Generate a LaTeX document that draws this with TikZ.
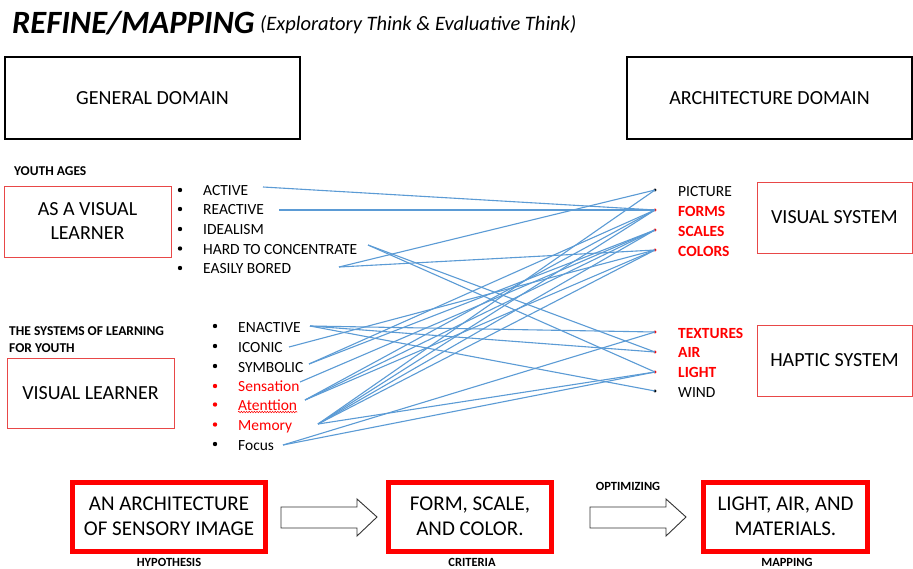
\documentclass[tikz,border=0pt]{standalone}
\usepackage{fontspec}
\setmainfont{Carlito}
\usetikzlibrary{decorations.pathmorphing}
\definecolor{boxred}{RGB}{232,72,72}
\definecolor{lnkblue}{RGB}{91,155,213}
\definecolor{txtred}{RGB}{255,0,0}
\begin{document}
\begin{tikzpicture}[x=1pt,y=-1pt,
  blackbox/.style={draw=black,line width=1.1pt,inner sep=0,font=\fontsize{20}{24}\selectfont,align=center},
  redbox/.style={draw=boxred,line width=1pt,inner sep=0,font=\fontsize{20}{24}\selectfont,align=center},
  thickbox/.style={draw=red,line width=5pt,inner sep=0,font=\fontsize{21}{25}\selectfont,align=center},
  lst/.style={anchor=base west,inner sep=0,font=\fontsize{15.5}{18}\selectfont},
  rlst/.style={anchor=base west,inner sep=0,font=\fontsize{15.5}{18}\selectfont},
  rbold/.style={rlst,text=txtred,font=\fontsize{15.5}{18}\selectfont\bfseries},
  hdr/.style={anchor=base west,inner sep=0,font=\fontsize{13.5}{17}\selectfont\bfseries,align=left},
  lbl/.style={anchor=base,inner sep=0,font=\fontsize{12.5}{15}\selectfont\bfseries},
  dotb/.style={circle,fill=black,inner sep=0,minimum size=4.4pt},
  dotr/.style={circle,fill=txtred,inner sep=0,minimum size=4.4pt},
  sdotb/.style={circle,fill=black,inner sep=0,minimum size=3.4pt},
  sdotr/.style={circle,fill=txtred,inner sep=0,minimum size=3.4pt},
  lnk/.style={draw=lnkblue,line width=1.1pt},
  hollow/.style={draw=black!80,line width=0.9pt,fill=white}]
\useasboundingbox (0,0) rectangle (913,568);
\fill[white] (0,0) rectangle (913,568);

% title
\node[anchor=base west,inner sep=0,font=\fontsize{32.5}{38}\selectfont\bfseries\itshape] (title) at (12,33) {REFINE/MAPPING};
\node[anchor=base west,inner sep=0,font=\fontsize{20.5}{24}\selectfont\itshape] (subtitle) at (260,30) {(Exploratory Think \& Evaluative Think)};

% domain boxes
\node[blackbox,minimum width=295,minimum height=82] (gd) at (152.5,98) {GENERAL DOMAIN};
\node[blackbox,minimum width=285,minimum height=82] (ad) at (769.5,98) {ARCHITECTURE DOMAIN};

% left upper
\node[hdr] (ya) at (14,175) {YOUTH AGES};
\node[redbox,minimum width=167,minimum height=71] (avl) at (87.5,221.5) {AS A VISUAL\\LEARNER};
\node[dotb] (d1) at (180,190) {};
\node[dotb] (d2) at (180,209) {};
\node[dotb] (d3) at (180,229) {};
\node[dotb] (d4) at (180,248.5) {};
\node[dotb] (d5) at (180,268) {};
\node[lst] (tACT) at (203,195) {ACTIVE};
\node[lst] (tREA) at (203,214) {REACTIVE};
\node[lst] (tIDE) at (203,234) {IDEALISM};
\node[lst] (tHAR) at (203,254) {HARD TO CONCENTRATE};
\node[lst] (tEAS) at (203,273) {EASILY BORED};

% left lower
\node[hdr] (sys) at (9,335) {THE SYSTEMS OF LEARNING};
\node[hdr] (sys2) at (9,352) {FOR YOUTH};
\node[redbox,minimum width=167,minimum height=70] (vl) at (90.5,393) {VISUAL LEARNER};
\node[dotb] (e1) at (215,326) {};
\node[dotb] (e2) at (215,346) {};
\node[dotb] (e3) at (215,366) {};
\node[dotr] (e4) at (215,386) {};
\node[dotr] (e5) at (215,404.5) {};
\node[dotr] (e6) at (215,424.5) {};
\node[dotb] (e7) at (215,444) {};
\node[lst] (tENA) at (238,332) {ENACTIVE};
\node[lst] (tICO) at (238,352) {ICONIC};
\node[lst] (tSYM) at (238,372) {SYMBOLIC};
\node[lst,text=txtred] (tSEN) at (238,391.5) {Sensation};
\node[lst,text=txtred] (tATE) at (238,410) {Atenttion};
\node[lst,text=txtred] (tMEM) at (238,430) {Memory};
\node[lst] (tFOC) at (238,450) {Focus};
\draw[txtred,line width=0.5pt,decorate,decoration={snake,amplitude=0.8pt,segment length=2.6pt}] ([yshift=-2pt]tATE.base west) -- ([yshift=-2pt]tATE.base east);

% right lists
\node[sdotb] (bP) at (655,190) {};
\node[sdotr] (bF) at (655,210) {};
\node[sdotr] (bS) at (655,230) {};
\node[sdotr] (bC) at (655,250) {};
\node[sdotr] (bT) at (655,332) {};
\node[sdotr] (bA) at (655,352) {};
\node[sdotr] (bL) at (655,372) {};
\node[sdotb] (bW) at (655,391) {};
\node[rlst] (rPIC) at (678,196) {PICTURE};
\node[rbold] (rFOR) at (678,216) {FORMS};
\node[rbold] (rSCA) at (678,236) {SCALES};
\node[rbold] (rCOL) at (678,256) {COLORS};
\node[rbold] (rTEX) at (678,338) {TEXTURES};
\node[rbold] (rAIR) at (678,357.5) {AIR};
\node[rbold] (rLIG) at (678,377) {LIGHT};
\node[rlst] (rWIN) at (678,397) {WIND};
\node[redbox,minimum width=155,minimum height=71] (vs) at (834.5,217.5) {VISUAL SYSTEM};
\node[redbox,minimum width=155,minimum height=71] (hs) at (834.5,360.5) {HAPTIC SYSTEM};

% line end points
\coordinate (eACT) at (263,187);
\coordinate (eREA) at (279,210);
\coordinate (eHAR) at (368,245);
\coordinate (eEAS) at (339,267);
\coordinate (eENA) at (310,326);
\coordinate (eICO) at (289,347);
\coordinate (eSYM) at (309,364);
\coordinate (eSEN) at (300,382);
\coordinate (eATE) at (305,400);
\coordinate (eMEM) at (318,424);
\coordinate (eFOC) at (283,445);

\draw[lnk] (eACT) -- (bF.center);
\draw[lnk] (eREA) -- (bF.center);
\draw[lnk] (eHAR) -- (bA.center);
\draw[lnk] (eHAR) -- (bL.center);
\draw[lnk] (eEAS) -- (bP.center);
\draw[lnk] (eEAS) -- (bC.center);
\draw[lnk] (eENA) -- (bT.center);
\draw[lnk] (eENA) -- (bA.center);
\draw[lnk] (eENA) -- (bW.center);
\draw[lnk] (eICO) -- (bC.center);
\draw[lnk] (eSYM) -- (bF.center);
\draw[lnk] (eSYM) -- (bS.center);
\draw[lnk] (eSEN) -- (bS.center);
\draw[lnk] (eATE) -- (bF.center);
\draw[lnk] (eATE) -- (bS.center);
\draw[lnk] (eATE) -- (bC.center);
\draw[lnk] (eMEM) -- (bP.center);
\draw[lnk] (eMEM) -- (bF.center);
\draw[lnk] (eMEM) -- (bS.center);
\draw[lnk] (eMEM) -- (bC.center);
\draw[lnk] (eMEM) -- (bL.center);
\draw[lnk] (eFOC) -- (bT.center);
\draw[lnk] (eFOC) -- (bL.center);

% bottom flow
\node[thickbox,minimum width=193,minimum height=69] (b1) at (169,516.5) {AN ARCHITECTURE\\OF SENSORY IMAGE};
\node[thickbox,minimum width=163,minimum height=69] (b2) at (470,516.5) {FORM, SCALE,\\AND COLOR.};
\node[thickbox,minimum width=164,minimum height=69] (b3) at (785.5,516.5) {LIGHT, AIR, AND\\MATERIALS.};
\node[lbl] (l1) at (169,566.5) {HYPOTHESIS};
\node[lbl] (l2) at (472,566) {CRITERIA};
\node[lbl] (l3) at (787,566) {MAPPING};
\node[lbl] (l4) at (628,490) {OPTIMIZING};

\draw[hollow] (281,507) -- (357,507) -- (357,499) -- (377,517) -- (357,536) -- (357,528) -- (281,528) -- cycle;
\draw[hollow] (590,507) -- (666,507) -- (666,499) -- (686,517) -- (666,536) -- (666,528) -- (590,528) -- cycle;
\end{tikzpicture}
\end{document}
